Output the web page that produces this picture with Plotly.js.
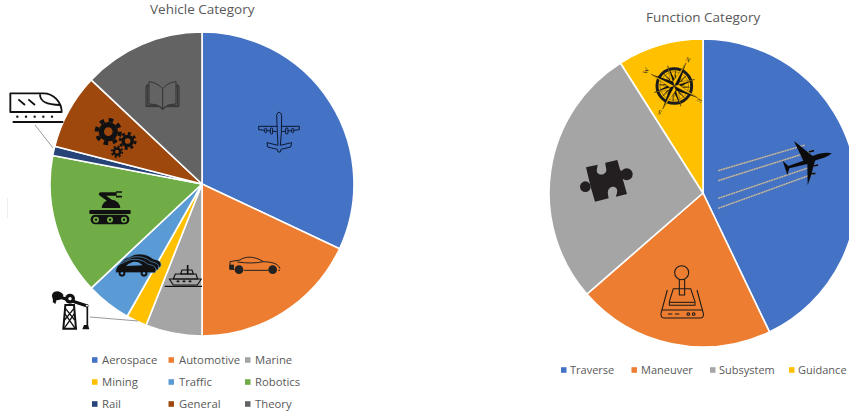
<!DOCTYPE html>
<html><head><meta charset="utf-8">
<script src="https://cdn.plot.ly/plotly-3.0.1.min.js"></script>
<style>html,body{margin:0;padding:0;background:#fff;overflow:hidden;width:849px;height:418px}</style>
</head><body><div id="chart"></div>
<script>
// ---- data ----
const vehicleCategories = ["Aerospace","Automotive","Marine","Mining","Traffic","Robotics","Rail","General","Theory"];
const vehicleValues     = [32,18,6,2.2,4.8,15,1,8,13];
const functionCategories = ["Traverse","Maneuver","Subsystem","Guidance"];
const functionValues     = [42.9,20.7,27.4,9];
const vehicleTitle = "Vehicle Category";
const functionTitle = "Function Category";
// ---- styles ----
const vehicleColors = ["#4472C4","#ED7D31","#A5A5A5","#FFC000","#5B9BD5","#70AD47","#264478","#9E480E","#636363"];
const functionColors = ["#4472C4","#ED7D31","#A5A5A5","#FFC000"];
const W = 880, H = 418, TXT = "#595959", FONT = "Open Sans, sans-serif";
const px = x => x / W, py = y => 1 - y / H;

function pie(labels, values, colors, l, t, r, b) {
  return {type:"pie", labels, values, sort:false, direction:"clockwise", rotation:0,
    textinfo:"none", hoverinfo:"label+percent", showlegend:false,
    marker:{colors, line:{color:"#fff", width:1.6}},
    domain:{x:[px(l),px(r)], y:[py(b),py(t)]}};
}
const data = [
  pie(vehicleCategories, vehicleValues, vehicleColors, 50, 32, 354, 336),
  pie(functionCategories, functionValues, functionColors, 549, 39, 857, 347)
];

const annotations = [], shapes = [];
function label(text, x, y, size, extra) {
  annotations.push(Object.assign({text, xref:"paper", yref:"paper", x:px(x), y:py(y),
    xanchor:"left", yanchor:"middle", showarrow:false, font:{size, color:TXT, family:FONT}}, extra||{}));
}
function swatch(x, y, color) {
  shapes.push({type:"rect", xref:"paper", yref:"paper", x0:px(x), x1:px(x+5.5), y0:py(y-2.8), y1:py(y+2.8),
    fillcolor:color, line:{width:0}});
}
label(vehicleTitle, 202, 9, 13.5, {xanchor:"center"});
label(functionTitle, 703, 17, 13.5, {xanchor:"center"});
const vCols = [92, 168.5, 245], vRows = [360, 382, 404];
vehicleCategories.forEach((c,i)=>{
  const x = vCols[i%3], y = vRows[Math.floor(i/3)];
  swatch(x, y, vehicleColors[i]); label(c, x+8, y-1, 11.3);
});
const fCols = [561, 631.5, 710, 789];
functionCategories.forEach((c,i)=>{
  swatch(fCols[i], 370, functionColors[i]); label(c, fCols[i]+7, 369.5, 11);
});
// compass letters
[["N",688,59,30],["W",646,71,-60],["E",700,101,120],["S",659,113,-150]].forEach(a=>{
  annotations.push({text:a[0], xref:"paper", yref:"paper", x:px(a[1]), y:py(a[2]), showarrow:false,
    xanchor:"center", yanchor:"middle", textangle:a[3],
    font:{size:6.5, color:"#222", family:"Liberation Serif, serif"}});
});
// leader lines + faint artefact
function ln(x0,y0,x1,y1,color,w){shapes.push({type:"line",xref:"paper",yref:"paper",
  x0:px(x0),y0:py(y0),x1:px(x1),y1:py(y1),line:{color,width:w}});}
ln(35,125,53,148,"#7f7f7f",0.8);
ln(90,317,138,321,"#7f7f7f",0.8);
ln(7.5,198,7.5,218,"#eeeeee",1);

// ---- icons (decoration), drawn in 3x crop coordinates ----
function gear(cx,cy,r,n){
  const c=2*Math.PI*(r*1.2), d=c/(2*n);
  return `<circle cx="${cx}" cy="${cy}" r="${r*0.72}" fill="none" stroke="#111" stroke-width="${r*0.55}"/>
  <circle cx="${cx}" cy="${cy}" r="${r*1.2}" fill="none" stroke="#111" stroke-width="${r*0.42}" stroke-dasharray="${d} ${d}"/>`;
}
const book = `<g fill="none" stroke="#333" stroke-width="3" stroke-linejoin="round">
<path d="M488 86C472 70 458 66 447 65L447 132C462 132 478 136 488 146C498 136 514 132 528 132L528 65C516 66 502 70 488 86V146"/>
<path d="M447 78H438V140H478L488 149L498 140H537V78H528"/><path d="M442 72V136H474M533 72V136H502"/></g>`;
const gears = gear(325,215,29,8)+gear(383,243,19,8)+gear(351,275,13,8);
const wheels = [288,330,372].map(x=>`<circle cx="${x}" cy="479" r="9" fill="#70AD47"/><circle cx="${x}" cy="479" r="3.5" fill="#111"/>`).join("");
const robot = `<rect x="268" y="450" width="124" height="12" rx="3" fill="#111"/>
<rect x="272" y="464" width="116" height="29" rx="14" fill="#111"/>${wheels}
<path d="M305 444A27 24 0 0 1 361 444Z" fill="#111"/>
<path d="M332 424L302 402L350 402" fill="none" stroke="#111" stroke-width="11" stroke-linejoin="round"/>
<path d="M348 396H366M348 410H366" stroke="#111" stroke-width="5"/>`;
const carShape = "M0 0C0-14 8-24 24-28L40-36C58-40 80-38 96-24C110-20 122-18 121-4L118 2L0 2Z";
const cars = `<path d="${carShape}" transform="translate(362,620)" fill="#111" stroke="#5B9BD5" stroke-width="2"/>
<path d="${carShape}" transform="translate(355,628)" fill="#111" stroke="#5B9BD5" stroke-width="2"/>
<path d="${carShape}" transform="translate(347,636)" fill="#111" stroke="#5B9BD5" stroke-width="2"/>
<path d="M385 612L398 606C408 604 418 606 428 616L378 618Z" fill="#5B9BD5"/>
<circle cx="366" cy="640" r="10" fill="#111"/><circle cx="432" cy="640" r="10" fill="#111"/>
<circle cx="366" cy="640" r="4" fill="#5B9BD5"/><circle cx="432" cy="640" r="4" fill="#5B9BD5"/>`;
const ship = `<g stroke="#111" stroke-width="3.5" fill="none" stroke-linejoin="round">
<path d="M563 615V642" stroke-width="5"/><path d="M546 630H576L580 642H542Z"/>
<path d="M526 642H588L593 657H520Z"/><path d="M508 657H604L592 675H520Z"/>
<path d="M494 679H606" stroke-width="4"/></g>
<path d="M530 664h8M548 664h8M566 664h8" stroke="#111" stroke-width="5"/>`;
const pump = `<g stroke="#111" fill="none">
<path d="M196 735L190 806H228L222 735Z" stroke-width="6"/><path d="M194 760L226 806M224 760L192 806M196 745L224 780M222 745L194 780" stroke-width="4"/>
<path d="M170 708L262 738" stroke-width="10"/><path d="M262 738V800" stroke-width="5"/></g>
<path d="M158 700C165 690 182 692 190 704C190 716 178 722 170 720L166 732L158 726C162 716 152 712 158 700Z" fill="#111"/>
<circle cx="210" cy="716" r="15" fill="#111"/><circle cx="210" cy="716" r="5" fill="#fff"/>
<circle cx="261" cy="737" r="4" fill="#fff" stroke="#111" stroke-width="2"/>
<path d="M247 808H268L264 795H252Z" fill="#111"/>`;
const train = `<g stroke="#111" stroke-width="5.5" fill="#fff" stroke-linejoin="round">
<path d="M31 100H130C160 100 185 125 185 156H31Z"/>
<path d="M120 103C120 125 138 135 182 135" fill="none"/>
<path d="M55 118L75 135M85 118L105 135M38 186H190" fill="none"/></g>
<g fill="#111">${[52,78,104,130,156].map(x=>`<circle cx="${x}" cy="170" r="3.5"/>`).join("")}</g>`;
const frame1 = `${book}${gears}${robot}${cars}${ship}${pump}${train}`;

const drone = `<g fill="#4472C4" stroke="#0d1a33" stroke-width="3" stroke-linejoin="round">
<path d="M176 109H298V119L246 125H230L176 119Z"/>
<path d="M230 75Q237 58 245 75L244 128L241 166L275 158L272 171L243 178L241 186H234L232 178L203 171L201 158L234 166L232 128Z"/>
<rect x="194" y="115" width="6" height="13" rx="3"/><rect x="211" y="114" width="7" height="18" rx="3"/>
<rect x="257" y="114" width="7" height="18" rx="3"/><rect x="275" y="115" width="6" height="13" rx="3"/></g>`;
const car = `<g stroke="#222" stroke-width="3" fill="none" stroke-linejoin="round">
<path d="M90 515L120 510C135 498 165 498 190 515C215 516 235 520 240 536"/>
<path d="M90 515V538H104M132 541H205M112 516C140 520 170 520 190 515M235 541H240"/></g>
<rect x="88" y="524" width="14" height="14" fill="#222"/>
<circle cx="117" cy="539" r="13" fill="#222"/><circle cx="218" cy="539" r="13" fill="#222"/>`;
const frame2 = drone + car;

const trails = [[475,362,735,285],[475,392,760,302],[475,445,770,345],[475,475,765,370]]
  .map(t=>`<path d="M${t[0]} ${t[1]}L${t[2]} ${t[3]}" stroke="#8f8f8f" stroke-width="5"/><path d="M${t[0]} ${t[1]}L${t[2]} ${t[3]}" stroke="#dcdcdc" stroke-width="2.2" stroke-dasharray="5 3"/>`).join("");
const plane = `${trails}<g transform="translate(630,240)"><path d="M185 70C170 66 150 70 128 78L72 33L76 42L100 92L55 108L38 92L52 135L58 115L112 102L113 165L122 140L135 92C155 86 175 80 185 70Z" fill="#0b0b0b"/>
<path d="M116 66L132 62M130 108L144 105M122 132L136 130" stroke="#0b0b0b" stroke-width="5"/></g>`;
const puzzle = `<path d="M78 352L113 344C112 354 108 362 112 368C120 378 136 374 139 362C140 354 135 346 136 338L172 330L184 372L201 432L168 440C170 430 174 424 170 416C162 406 148 410 144 422C142 430 146 440 146 445L105 455L92 410Z" fill="#231f20"/>
<circle cx="200" cy="373" r="18" fill="#231f20"/><path d="M172 358L200 368L200 380L180 390Z" fill="#231f20"/>
<circle cx="76" cy="410" r="16" fill="#231f20"/>`;
const joystick = `<g stroke="#1a1a1a" stroke-width="3.2" fill="none" stroke-linejoin="round">
<circle cx="365" cy="668" r="21"/><path d="M358 688V735H374V688"/>
<path d="M340 716H392L405 755V766H328V755Z"/><path d="M330 757H403"/>
<path d="M322 720L303 790Q302 804 312 804H422Q432 804 430 790L411 720"/><path d="M306 780H428"/>
<path d="M324 792H337M345 792H358"/><circle cx="385" cy="792" r="4"/><circle cx="401" cy="792" r="4"/></g>`;
function spike(a,len,w){
  const rad=a*Math.PI/180, s=Math.sin, c=Math.cos;
  const P=(ang,r)=>`${(343+r*s(ang)).toFixed(1)} ${(108-r*c(ang)).toFixed(1)}`;
  return `<path d="M${P(rad,len)}L${P(rad+Math.PI/4,w)}L343 108Z" fill="#111"/><path d="M${P(rad,len)}L${P(rad-Math.PI/4,w)}L343 108Z" fill="#FFC000" stroke="#111" stroke-width="1"/>`;
}
const compass = `<circle cx="343" cy="108" r="52" fill="none" stroke="#1c1c1c" stroke-width="9"/>
<circle cx="343" cy="108" r="43" fill="none" stroke="#222" stroke-width="1.2"/>
${[5,50,95,140,185,230,275,320].map(a=>spike(a,46,9)).join("")}
${[72,162,252,342].map(a=>spike(a,64,12)).join("")}
${[27,117,207,297].map(a=>spike(a,78,14)).join("")}`;
const frame3 = plane + puzzle + joystick + compass;

function svgImage(body, x, y, w, h){
  const svg = `<svg xmlns="http://www.w3.org/2000/svg" width="${w*3}" height="${h*3}" viewBox="0 0 ${w*3} ${h*3}">${body}</svg>`;
  return {source:"data:image/svg+xml,"+encodeURIComponent(svg), xref:"paper", yref:"paper",
    x:px(x), y:py(y), sizex:w/W, sizey:h/H, xanchor:"left", yanchor:"top", sizing:"stretch", layer:"above"};
}
const images = [svgImage(frame1,0,60,210,290), svgImage(frame2,200,90,120,210), svgImage(frame3,560,50,289,290)];

Plotly.newPlot("chart", data, {
  width:W, height:H, margin:{l:0,r:0,t:0,b:0}, paper_bgcolor:"#fff", showlegend:false,
  annotations, shapes, images
}, {staticPlot:true, displayModeBar:false});
</script></body></html>
